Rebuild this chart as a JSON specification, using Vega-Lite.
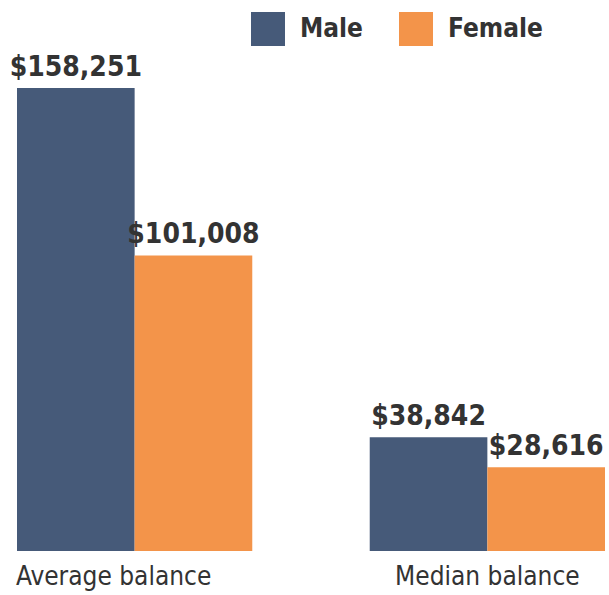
{
  "$schema": "https://vega.github.io/schema/vega-lite/v6.json",
  "autosize": "none",
  "width": 588,
  "height": 551,
  "padding": {"left": 17, "top": 0, "right": 4, "bottom": 44},
  "background": "white",
  "config": {"view": {"stroke": null}, "font": "DejaVu Sans Condensed"},
  "data": {"values": [
    {"measure": "Average balance", "gender": "Male", "value": 158251},
    {"measure": "Average balance", "gender": "Female", "value": 101008},
    {"measure": "Median balance", "gender": "Male", "value": 38842},
    {"measure": "Median balance", "gender": "Female", "value": 28616}
  ]},
  "encoding": {
    "x": {"field": "measure", "type": "nominal", "sort": null,
      "scale": {"paddingInner": 0.333, "paddingOuter": 0},
      "axis": {"title": null, "domain": false, "ticks": false, "labelAngle": 0,
        "labelFont": "DejaVu Sans Condensed", "labelFontSize": 26, "labelColor": "#333333",
        "labelPadding": 12, "labelBaseline": "top", "labelLimit": 0,
        "labelOffset": {"condition": {"test": "datum.value === 'Average balance'", "value": -21}, "value": 0}}},
    "xOffset": {"field": "gender", "type": "nominal", "sort": ["Male", "Female"], "scale": {"paddingInner": 0, "paddingOuter": 0}},
    "y": {"field": "value", "type": "quantitative", "scale": {"domain": [0, 188330], "nice": false, "zero": true}, "axis": null}
  },
  "layer": [
    {
      "mark": {"type": "bar"},
      "encoding": {
        "color": {"field": "gender", "type": "nominal", "sort": ["Male", "Female"],
          "scale": {"domain": ["Male", "Female"], "range": ["#465a79", "#f3944a"]},
          "legend": {"title": null, "orient": "none", "legendX": 234, "legendY": 12,
            "direction": "horizontal", "columns": 2, "symbolType": "square", "symbolSize": 1156,
            "symbolStrokeWidth": 0, "symbolOpacity": 1, "labelFont": "DejaVu Sans Condensed", "labelFontSize": 26,
            "labelFontWeight": "bold", "labelColor": "#333333", "labelOffset": 15, "columnPadding": 36, "padding": 0}}
      }
    },
    {
      "mark": {"type": "text", "baseline": "alphabetic", "dy": -12, "font": "DejaVu Sans Condensed", "fontSize": 28, "fontWeight": "bold", "color": "#333333"},
      "encoding": {
        "text": {"field": "value", "type": "quantitative", "format": "$,.0f"}
      }
    }
  ]
}
